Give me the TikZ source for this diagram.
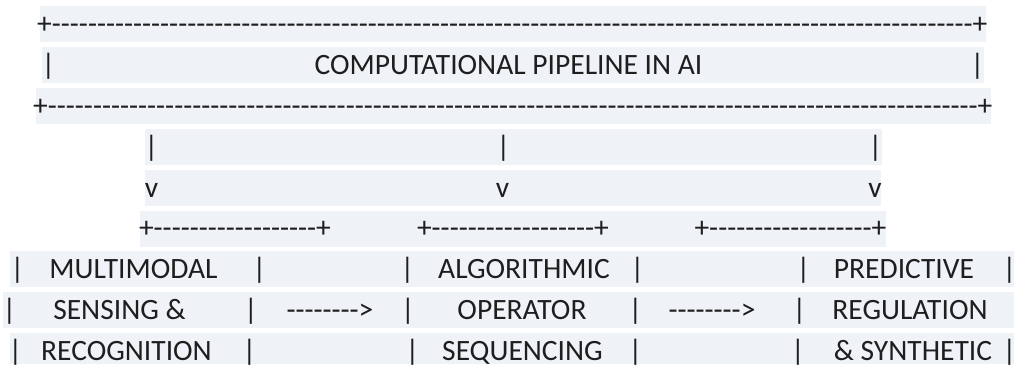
\documentclass[tikz,border=0pt]{standalone}
\usepackage{fontspec}
\setmainfont{Carlito}[Ligatures=TeXOff]
\definecolor{bandfill}{RGB}{239,242,247}
\definecolor{inkgray}{RGB}{30,30,30}
\ExplSyntaxOn
\cs_new:Npn \asciirun #1#2 { \prg_replicate:nn {#1} {#2} }
\ExplSyntaxOff
\tikzset{
  band/.style={fill=bandfill, draw=none},
  txt/.style={font=\fontsize{29.5}{36}\selectfont, text=inkgray, inner sep=0pt, anchor=base},
}
\begin{document}
\begin{tikzpicture}[x=1pt, y=-1pt]
\useasboundingbox (0,0) rectangle (1014,364);

% highlight bands behind each text line
\fill[band] (40,6)     rectangle (986,42);
\fill[band] (42,46.9)  rectangle (984,82.9);
\fill[band] (36,87.8)  rectangle (991,123.8);
\fill[band] (145,128.7) rectangle (882,164.7);
\fill[band] (145,169.6) rectangle (881,205.6);
\fill[band] (140,210.5) rectangle (886,246.5);
\fill[band] (10,251.4)  rectangle (1014,287.4);
\fill[band] (3,292.3)   rectangle (1014,328.3);
\fill[band] (10,333.2)  rectangle (1014,364);

% title frame
\node[txt] (top)    at (512.5,33)  {+\asciirun{102}{-}+};
\node[txt] (tl)     at (48.5,74)   {|};
\node[txt] (title)  at (508.5,74)  {COMPUTATIONAL PIPELINE IN AI};
\node[txt] (tr)     at (977.5,74)  {|};
\node[txt] (bottom) at (513,115)   {+\asciirun{103}{-}+};

% drop lines
\node[txt] (d1) at (151.5,156) {|};
\node[txt] (d2) at (503.5,156) {|};
\node[txt] (d3) at (875.5,156) {|};
\node[txt] (v1) at (151.5,197) {v};
\node[txt] (v2) at (502.5,197) {v};
\node[txt] (v3) at (875,197)   {v};

% box tops
\node[txt] (b1) at (235,237)   {+\asciirun{18}{-}+};
\node[txt] (b2) at (513,237)   {+\asciirun{18}{-}+};
\node[txt] (b3) at (790.5,237) {+\asciirun{18}{-}+};

% row 1 of the boxes
\node[txt] (r1a) at (17.5,278)  {|};
\node[txt] (m1)  at (133.5,278) {MULTIMODAL};
\node[txt] (r1b) at (259.5,278) {|};
\node[txt] (r1c) at (407.5,278) {|};
\node[txt] (a1)  at (524,278)   {ALGORITHMIC};
\node[txt] (r1d) at (637.5,278) {|};
\node[txt] (r1e) at (803.5,278) {|};
\node[txt] (p1)  at (904,278)   {PREDICTIVE};
\node[txt] (r1f) at (1009.5,278) {|};

% row 2 with the flow arrows
\node[txt] (r2a) at (9.5,319)   {|};
\node[txt] (m2)  at (119.5,319) {SENSING \&};
\node[txt] (r2b) at (251,319)   {|};
\node[txt] (ar1) at (330,319)   {\asciirun{8}{-}>};
\node[txt] (r2c) at (408,319)   {|};
\node[txt] (a2)  at (522,319)   {OPERATOR};
\node[txt] (r2d) at (635.5,319) {|};
\node[txt] (ar2) at (712,319)   {\asciirun{8}{-}>};
\node[txt] (r2e) at (799.5,319) {|};
\node[txt] (p2)  at (910,319)   {REGULATION};

% row 3
\node[txt] (r3a) at (15.5,360)  {|};
\node[txt] (m3)  at (126.5,360) {RECOGNITION};
\node[txt] (r3b) at (249.5,360) {|};
\node[txt] (r3c) at (412.5,360) {|};
\node[txt] (a3)  at (522.5,360) {SEQUENCING};
\node[txt] (r3d) at (635.5,360) {|};
\node[txt] (r3e) at (798,360)   {|};
\node[txt] (p3)  at (913,360)   {\& SYNTHETIC};
\node[txt] (r3f) at (1009.5,360) {|};
\end{tikzpicture}
\end{document}
